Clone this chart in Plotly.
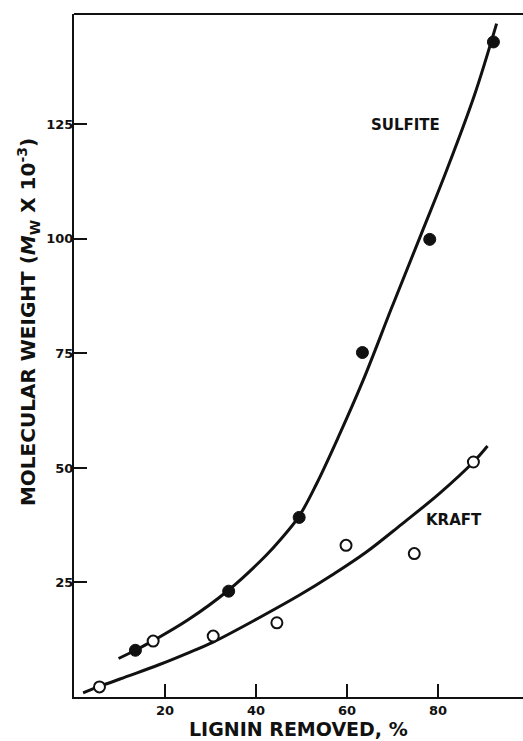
import plotly.graph_objects as go

# Measured points
sulfite_x = [13.5, 34.0, 49.5, 63.4, 78.2, 92.2]
sulfite_y = [10.2, 23.1, 39.2, 75.2, 99.9, 143.0]
kraft_x = [5.6, 17.4, 30.6, 44.6, 59.8, 74.8, 87.8]
kraft_y = [2.2, 12.2, 13.3, 16.2, 33.1, 31.3, 51.3]

# Hand-drawn fitted curves
sulfite_curve_x = [9.8, 13.5, 17.4, 25.0, 33.8, 42.2, 45.5, 49.5, 53.3, 58.0, 63.5, 70.0, 76.3, 82.0, 88.0, 92.9]
sulfite_curve_y = [8.4, 10.2, 12.3, 16.8, 23.2, 30.9, 34.5, 39.5, 46.5, 56.5, 69.0, 85.4, 101.0, 115.2, 131.3, 147.0]
kraft_curve_x = [2.0, 5.6, 12.0, 18.8, 25.0, 30.6, 40.7, 49.5, 57.0, 64.2, 72.0, 80.3, 87.8, 90.9]
kraft_curve_y = [0.9, 2.3, 4.6, 7.1, 9.6, 12.0, 17.3, 22.2, 26.8, 31.6, 37.7, 44.4, 51.3, 54.8]

x_ticks = [20, 40, 60, 80]
y_ticks = [25, 50, 75, 100, 125]

INK = "#111111"
FONT = "DejaVu Sans"

fig = go.Figure()
for cx, cy in ((sulfite_curve_x, sulfite_curve_y), (kraft_curve_x, kraft_curve_y)):
    fig.add_trace(go.Scatter(x=cx, y=cy, mode="lines",
                             line=dict(color=INK, width=3, shape="spline", smoothing=1.0),
                             hoverinfo="skip", showlegend=False))
fig.add_trace(go.Scatter(x=sulfite_x, y=sulfite_y, mode="markers", name="Sulfite",
                         marker=dict(symbol="circle", size=12, color=INK,
                                     line=dict(color=INK, width=1)),
                         showlegend=False))
fig.add_trace(go.Scatter(x=kraft_x, y=kraft_y, mode="markers", name="Kraft",
                         marker=dict(symbol="circle", size=11, color="white",
                                     line=dict(color=INK, width=2)),
                         showlegend=False))

tickfont = dict(family=FONT, size=13, weight="bold", color=INK)
fig.update_layout(
    width=523, height=741,
    margin=dict(l=74, r=0, t=14, b=44),
    paper_bgcolor="white", plot_bgcolor="white",
    font=dict(family=FONT, color=INK, size=13),
    xaxis=dict(range=[0, 98.7], tickvals=x_ticks, ticktext=[str(v) for v in x_ticks],
               ticks="inside", ticklen=13, tickwidth=1.5, tickcolor=INK,
               showline=True, linecolor=INK, linewidth=2, showgrid=False, zeroline=False,
               tickfont=tickfont),
    yaxis=dict(range=[0, 149.1], tickvals=y_ticks, ticktext=[str(v) for v in y_ticks],
               ticks="inside", ticklen=13, tickwidth=1.5, tickcolor=INK,
               showline=True, linecolor=INK, linewidth=2, showgrid=False, zeroline=False,
               ticklabelstandoff=-4, tickfont=tickfont),
    shapes=[dict(type="line", xref="paper", yref="paper", x0=0, x1=1, y0=1, y1=1,
                 line=dict(color=INK, width=2))],
    annotations=[
        dict(text="SULFITE", x=72.8, y=124.8, xref="x", yref="y", showarrow=False,
             xanchor="center", yanchor="middle",
             font=dict(family=FONT, size=15, weight="bold", color=INK)),
        dict(text="KRAFT", x=83.5, y=38.6, xref="x", yref="y", showarrow=False,
             xanchor="center", yanchor="middle",
             font=dict(family=FONT, size=15, weight="bold", color=INK)),
        dict(text="LIGNIN REMOVED, %", x=0.501, y=-0.047, xref="paper", yref="paper",
             xanchor="center", yanchor="middle", showarrow=False,
             font=dict(family=FONT, size=19, weight="bold", color=INK)),
        dict(text="MOLECULAR WEIGHT (<i>M</i><sub>W</sub> X 10<sup>-3</sup>)",
             x=-0.1024, y=0.549, xref="paper", yref="paper", textangle=-90,
             xanchor="center", yanchor="middle", showarrow=False,
             font=dict(family=FONT, size=20, weight="bold", color=INK)),
    ],
)

fig.write_html("out.html", config={"displayModeBar": False},
               post_script="document.body.style.margin='0px';document.body.style.overflow='hidden';")
